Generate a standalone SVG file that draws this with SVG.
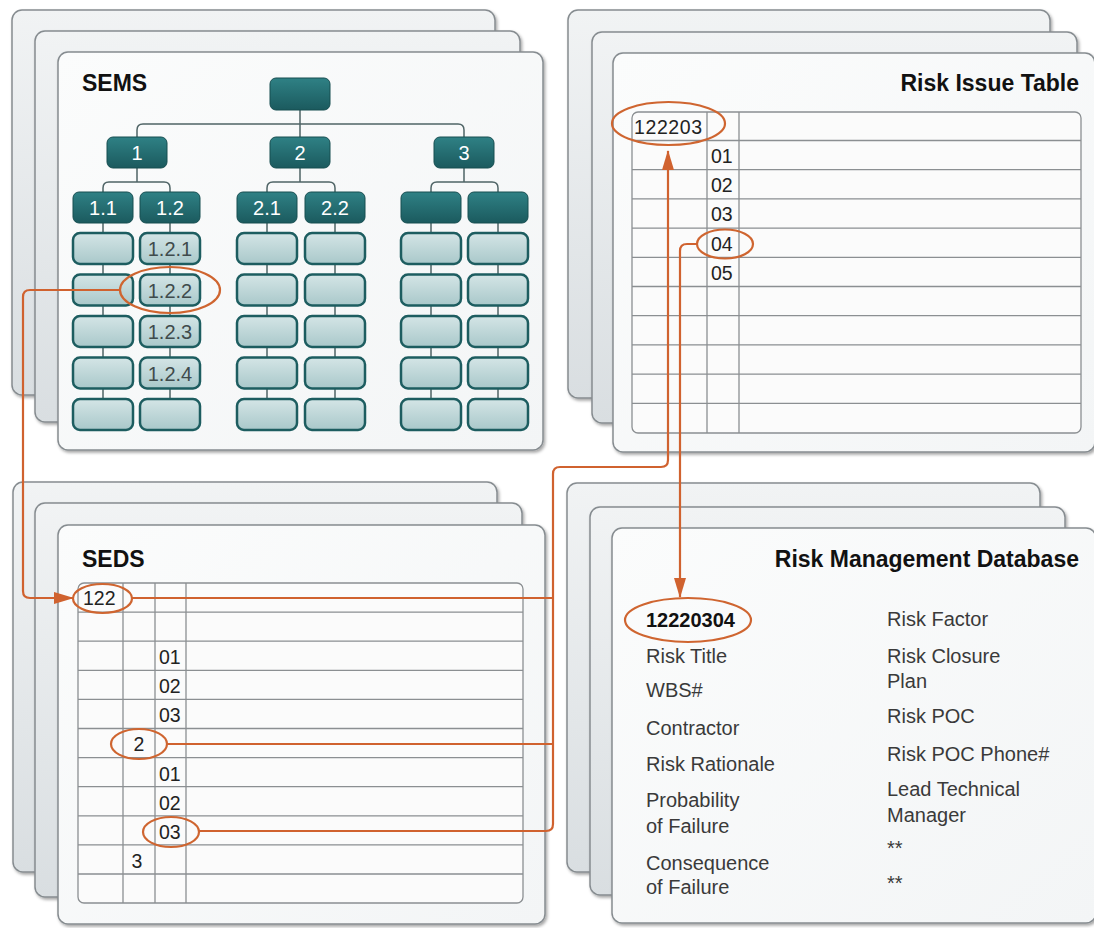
<svg xmlns="http://www.w3.org/2000/svg" width="1094" height="928" viewBox="0 0 1094 928">
<defs>
  <linearGradient id="gBack" x1="0" y1="0" x2="0" y2="1">
    <stop offset="0" stop-color="#f1f3f4"/>
    <stop offset="1" stop-color="#d9dee1"/>
  </linearGradient>
  <linearGradient id="gFront" x1="0" y1="0" x2="1" y2="1">
    <stop offset="0" stop-color="#fbfcfc"/>
    <stop offset="1" stop-color="#f3f5f6"/>
  </linearGradient>
  <linearGradient id="gDark" x1="0" y1="0" x2="0" y2="1">
    <stop offset="0" stop-color="#2f8185"/>
    <stop offset="1" stop-color="#1b5a5e"/>
  </linearGradient>
  <linearGradient id="gLight" x1="0" y1="0" x2="0" y2="1">
    <stop offset="0" stop-color="#d4e5e6"/>
    <stop offset="1" stop-color="#a9c8ca"/>
  </linearGradient>
  <filter id="shadow" x="-5%" y="-5%" width="115%" height="115%">
    <feDropShadow dx="1.5" dy="2" stdDeviation="1.8" flood-color="#000" flood-opacity="0.35"/>
  </filter>
  <marker id="arrow" viewBox="0 0 20 12" refX="19" refY="6" markerWidth="20" markerHeight="12" markerUnits="userSpaceOnUse" orient="auto">
    <path d="M0,0 L20,6 L0,12 Z" fill="#d0622f"/>
  </marker>
  <style>
    .sheet-back { fill: url(#gBack); stroke: #868c90; stroke-width: 1.5; filter: url(#shadow); }
    .sheet-front { fill: url(#gFront); stroke: #868c90; stroke-width: 1.5; filter: url(#shadow); }
    .title { font-family: "Liberation Sans", Arial, sans-serif; font-weight: bold; font-size: 23px; fill: #111; }
    .dark { fill: url(#gDark); stroke: #174e51; stroke-width: 1; }
    .light { fill: url(#gLight); stroke: #1d5d60; stroke-width: 2.5; }
    .dlabel { font-family: "Liberation Sans", Arial, sans-serif; font-size: 20px; fill: #ffffff; text-anchor: middle; }
    .llabel { font-family: "Liberation Sans", Arial, sans-serif; font-size: 20px; fill: #3f4b4c; text-anchor: middle; }
    .tree { fill: none; stroke: #4f6466; stroke-width: 1.5; }
    .tbl { fill: #fbfbfb; stroke: #8b8f92; stroke-width: 1.3; }
    .rule { stroke: #8b8f92; stroke-width: 1.3; fill: none; }
    .cell { font-family: "Liberation Sans", Arial, sans-serif; font-size: 19.5px; fill: #222; }
    .field { font-family: "Liberation Sans", Arial, sans-serif; font-size: 20px; fill: #3a3a3a; }
    .key { font-family: "Liberation Sans", Arial, sans-serif; font-size: 20px; font-weight: bold; fill: #111; }
    .hl { fill: none; stroke: #cf6530; stroke-width: 2.2; }
    .link { fill: none; stroke: #d0622f; stroke-width: 2.2; }
  </style>
</defs>

<!-- SEMS panel -->
<g id="sems-panel">
  <rect class="sheet-back" x="12" y="10" width="483" height="385" rx="10"/>
  <rect class="sheet-back" x="35" y="31" width="485" height="391" rx="10"/>
  <rect class="sheet-front" x="58" y="52" width="485" height="398" rx="10"/>
  <text class="title" x="82" y="91">SEMS</text>
</g>

<!-- Risk Issue Table panel -->
<g id="risk-issue-panel">
  <rect class="sheet-back" x="568" y="10" width="482" height="388" rx="10"/>
  <rect class="sheet-back" x="592" y="32" width="485" height="391" rx="10"/>
  <rect class="sheet-front" x="613" y="53" width="482" height="399" rx="10"/>
  <text class="title" x="1079" y="91" text-anchor="end">Risk Issue Table</text>
  <rect class="tbl" x="632" y="112" width="449" height="321" rx="6"/>
  <path class="rule" d="M632,140.5H1081M632,169.7H1081M632,198.9H1081M632,228.1H1081M632,257.3H1081M632,286.5H1081M632,315.7H1081M632,344.9H1081M632,374.1H1081M632,403.3H1081M707,112V433M739,112V433"/>
  <text class="cell" x="634" y="134" letter-spacing="0.6">122203</text>
  <text class="cell" x="711" y="163">01</text>
  <text class="cell" x="711" y="192">02</text>
  <text class="cell" x="711" y="221">03</text>
  <text class="cell" x="711" y="251">04</text>
  <text class="cell" x="711" y="280">05</text>
</g>

<!-- SEDS panel -->
<g id="seds-panel">
  <rect class="sheet-back" x="13" y="482" width="484" height="390" rx="10"/>
  <rect class="sheet-back" x="35" y="503" width="487" height="394" rx="10"/>
  <rect class="sheet-front" x="58" y="525" width="487" height="399" rx="10"/>
  <text class="title" x="82" y="567">SEDS</text>
  <rect class="tbl" x="78" y="583" width="445" height="320" rx="6"/>
  <path class="rule" d="M78,612.1H523M78,641.2H523M78,670.3H523M78,699.4H523M78,728.5H523M78,757.6H523M78,786.7H523M78,815.8H523M78,844.9H523M78,874H523M123,583V903M155,583V903M186,583V903"/>
  <text class="cell" x="83" y="605">122</text>
  <text class="cell" x="159" y="664">01</text>
  <text class="cell" x="159" y="693">02</text>
  <text class="cell" x="159" y="722">03</text>
  <text class="cell" x="139" y="751" text-anchor="middle">2</text>
  <text class="cell" x="159" y="781">01</text>
  <text class="cell" x="159" y="810">02</text>
  <text class="cell" x="159" y="839">03</text>
  <text class="cell" x="137" y="868" text-anchor="middle">3</text>
</g>

<!-- Risk Management Database panel -->
<g id="rmd-panel">
  <rect class="sheet-back" x="567" y="483" width="473" height="389" rx="10"/>
  <rect class="sheet-back" x="590" y="507" width="475" height="388" rx="10"/>
  <rect class="sheet-front" x="612" y="528" width="484" height="395" rx="10"/>
  <text class="title" x="1079" y="567" text-anchor="end">Risk Management Database</text>
  <text class="key" x="646" y="627">12220304</text>
  <text class="field" x="646" y="663">Risk Title</text>
  <text class="field" x="646" y="697">WBS#</text>
  <text class="field" x="646" y="735">Contractor</text>
  <text class="field" x="646" y="771">Risk Rationale</text>
  <text class="field" x="646" y="807">Probability</text>
  <text class="field" x="646" y="833">of Failure</text>
  <text class="field" x="646" y="870">Consequence</text>
  <text class="field" x="646" y="894">of Failure</text>
  <text class="field" x="887" y="626">Risk Factor</text>
  <text class="field" x="887" y="663">Risk Closure</text>
  <text class="field" x="887" y="688">Plan</text>
  <text class="field" x="887" y="723">Risk POC</text>
  <text class="field" x="887" y="761">Risk POC Phone#</text>
  <text class="field" x="887" y="796">Lead Technical</text>
  <text class="field" x="887" y="822">Manager</text>
  <text class="field" x="887" y="855">**</text>
  <text class="field" x="887" y="890">**</text>
</g>

<!-- SEMS tree connectors -->
<g id="tree-lines">
  <path class="tree" d="M300,110V137M137,137V130Q137,124 143,124H458Q464,124 464,130V137"/>
  <path class="tree" d="M137,168V182M103,192V188Q103,182 109,182H164Q170,182 170,188V192"/>
  <path class="tree" d="M300,168V182M267,192V188Q267,182 273,182H329Q335,182 335,188V192"/>
  <path class="tree" d="M464,168V182M431,192V188Q431,182 437,182H492Q498,182 498,188V192"/>
  <path class="tree" d="M103,223V400M170,223V400M267,223V400M335,223V400M431,223V400M498,223V400"/>
</g>

<!-- SEMS tree nodes -->
<g id="node-root"><rect class="dark" x="270" y="78" width="60" height="32" rx="6"/></g>
<g id="node-1"><rect class="dark" x="107" y="137" width="60" height="31" rx="6"/><text class="dlabel" x="137" y="160">1</text></g>
<g id="node-2"><rect class="dark" x="270" y="137" width="60" height="31" rx="6"/><text class="dlabel" x="300" y="160">2</text></g>
<g id="node-3"><rect class="dark" x="434" y="137" width="60" height="31" rx="6"/><text class="dlabel" x="464" y="160">3</text></g>

<g id="node-1-1"><rect class="dark" x="73" y="192" width="60" height="31" rx="6"/><text class="dlabel" x="103" y="215">1.1</text></g>
<g id="node-1-2"><rect class="dark" x="140" y="192" width="60" height="31" rx="6"/><text class="dlabel" x="170" y="215">1.2</text></g>
<g id="node-2-1"><rect class="dark" x="237" y="192" width="60" height="31" rx="6"/><text class="dlabel" x="267" y="215">2.1</text></g>
<g id="node-2-2"><rect class="dark" x="305" y="192" width="60" height="31" rx="6"/><text class="dlabel" x="335" y="215">2.2</text></g>
<g id="node-3-1"><rect class="dark" x="401" y="192" width="60" height="31" rx="6"/></g>
<g id="node-3-2"><rect class="dark" x="468" y="192" width="60" height="31" rx="6"/></g>

<g id="col-1-1">
  <rect class="light" x="73" y="233" width="60" height="31" rx="7"/>
  <rect class="light" x="73" y="274.5" width="60" height="31" rx="7"/>
  <rect class="light" x="73" y="316" width="60" height="31" rx="7"/>
  <rect class="light" x="73" y="357.5" width="60" height="31" rx="7"/>
  <rect class="light" x="73" y="399" width="60" height="31" rx="7"/>
</g>
<g id="col-1-2">
  <g id="node-1-2-1"><rect class="light" x="140" y="233" width="60" height="31" rx="7"/><text class="llabel" x="170" y="256">1.2.1</text></g>
  <g id="node-1-2-2"><rect class="light" x="140" y="274.5" width="60" height="31" rx="7"/><text class="llabel" x="170" y="297.5">1.2.2</text></g>
  <g id="node-1-2-3"><rect class="light" x="140" y="316" width="60" height="31" rx="7"/><text class="llabel" x="170" y="339">1.2.3</text></g>
  <g id="node-1-2-4"><rect class="light" x="140" y="357.5" width="60" height="31" rx="7"/><text class="llabel" x="170" y="380.5">1.2.4</text></g>
  <rect class="light" x="140" y="399" width="60" height="31" rx="7"/>
</g>
<g id="col-2-1">
  <rect class="light" x="237" y="233" width="60" height="31" rx="7"/>
  <rect class="light" x="237" y="274.5" width="60" height="31" rx="7"/>
  <rect class="light" x="237" y="316" width="60" height="31" rx="7"/>
  <rect class="light" x="237" y="357.5" width="60" height="31" rx="7"/>
  <rect class="light" x="237" y="399" width="60" height="31" rx="7"/>
</g>
<g id="col-2-2">
  <rect class="light" x="305" y="233" width="60" height="31" rx="7"/>
  <rect class="light" x="305" y="274.5" width="60" height="31" rx="7"/>
  <rect class="light" x="305" y="316" width="60" height="31" rx="7"/>
  <rect class="light" x="305" y="357.5" width="60" height="31" rx="7"/>
  <rect class="light" x="305" y="399" width="60" height="31" rx="7"/>
</g>
<g id="col-3-1">
  <rect class="light" x="401" y="233" width="60" height="31" rx="7"/>
  <rect class="light" x="401" y="274.5" width="60" height="31" rx="7"/>
  <rect class="light" x="401" y="316" width="60" height="31" rx="7"/>
  <rect class="light" x="401" y="357.5" width="60" height="31" rx="7"/>
  <rect class="light" x="401" y="399" width="60" height="31" rx="7"/>
</g>
<g id="col-3-2">
  <rect class="light" x="468" y="233" width="60" height="31" rx="7"/>
  <rect class="light" x="468" y="274.5" width="60" height="31" rx="7"/>
  <rect class="light" x="468" y="316" width="60" height="31" rx="7"/>
  <rect class="light" x="468" y="357.5" width="60" height="31" rx="7"/>
  <rect class="light" x="468" y="399" width="60" height="31" rx="7"/>
</g>

<!-- Highlight ellipses -->
<g id="highlights">
  <ellipse class="hl" cx="170" cy="290" rx="50" ry="23"/>
  <ellipse class="hl" cx="668.5" cy="123.5" rx="56.5" ry="21.5"/>
  <ellipse class="hl" cx="725" cy="244" rx="28" ry="14.5"/>
  <ellipse class="hl" cx="102.5" cy="598.5" rx="29.5" ry="14.5"/>
  <ellipse class="hl" cx="139" cy="744" rx="28" ry="15"/>
  <ellipse class="hl" cx="171" cy="832" rx="28" ry="15"/>
  <ellipse class="hl" cx="688" cy="620" rx="63" ry="22"/>
</g>

<!-- Connectors -->
<g id="connectors">
  <path class="link" d="M120,290H30Q23,290 23,297V591Q23,598 30,598H73" marker-end="url(#arrow)"/>
  <path class="link" d="M199,831H546Q553,831 553,824V474Q553,467 560,467H661Q668,467 668,460V151" marker-end="url(#arrow)"/>
  <path class="link" d="M132,598H553"/>
  <path class="link" d="M167,744H553"/>
  <path class="link" d="M697,244H687Q680,244 680,251V597" marker-end="url(#arrow)"/>
</g>
</svg>
